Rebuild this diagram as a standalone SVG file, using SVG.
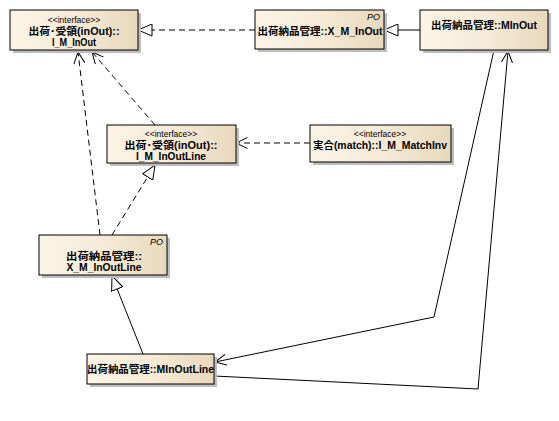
<svg xmlns="http://www.w3.org/2000/svg" width="559" height="421" viewBox="0 0 559 421">
<defs>
<linearGradient id="g" x1="0" y1="0" x2="1" y2="0">
<stop offset="0" stop-color="#FCF4E6"/>
<stop offset="0.5" stop-color="#F6EBD8"/>
<stop offset="1" stop-color="#E8D8BC"/>
</linearGradient>
<marker id="tri" viewBox="0 0 15 13" refX="14.5" refY="6.5" markerWidth="15" markerHeight="13" markerUnits="userSpaceOnUse" orient="auto">
<path d="M0.5,0.5 L14.5,6.5 L0.5,12.5 z" fill="#fff" stroke="#000" stroke-width="1"/>
</marker>
<marker id="vee" viewBox="0 0 12 12" refX="11.5" refY="6" markerWidth="12" markerHeight="12" markerUnits="userSpaceOnUse" orient="auto">
<path d="M0,0.5 L11.5,6 L0,11.5" fill="none" stroke="#000" stroke-width="1"/>
</marker>
</defs>
<style>
.sh{fill:#BDBDBD}
.bx{fill:url(#g);stroke:#000;stroke-width:1}
.t{font-family:"Liberation Sans","Noto Sans CJK JP",sans-serif;font-size:10px;font-weight:bold;fill:#000;text-anchor:middle}
.st{font-family:"Liberation Sans","Noto Sans CJK JP",sans-serif;font-size:8.5px;fill:#000;text-anchor:middle}
.po{font-family:"Liberation Sans",sans-serif;font-size:9px;font-style:italic;fill:#000;text-anchor:end}
.c{fill:none;stroke:#000;stroke-width:1}
.d{stroke-dasharray:6,4}
</style>
<rect width="559" height="421" fill="#fff"/>
<g id="connectors">
<path class="c d" d="M255,30 L138,30" marker-end="url(#tri)"/>
<path class="c" d="M420,30 L384,30" marker-end="url(#tri)"/>
<path class="c d" d="M155,125 L92,52" marker-end="url(#vee)"/>
<path class="c d" d="M100,235 L78,52" marker-end="url(#vee)"/>
<path class="c d" d="M112,235 L155,165" marker-end="url(#tri)"/>
<path class="c d" d="M310,143 L236,143" marker-end="url(#vee)"/>
<path class="c" d="M143,354 L112,276" marker-end="url(#tri)"/>
<path class="c" d="M494,50 L434,317 L215,362" marker-end="url(#vee)"/>
<path class="c" d="M214,376 L478,389 L508,51" marker-end="url(#vee)"/>
</g>
<g id="I_M_InOut">
<rect class="sh" x="13" y="13" width="128" height="40"/>
<rect class="bx" x="10" y="10" width="128" height="40"/>
<text class="st" x="74" y="23">&lt;&lt;interface&gt;&gt;</text>
<text class="t" x="74" y="35" textLength="91" lengthAdjust="spacingAndGlyphs">出荷･受領(inOut)::</text>
<text class="t" x="74" y="46" textLength="44" lengthAdjust="spacingAndGlyphs">I_M_InOut</text>
</g>
<g id="X_M_InOut">
<rect class="sh" x="258" y="13" width="129" height="39"/>
<rect class="bx" x="255" y="10" width="129" height="39"/>
<text class="po" x="380" y="20">PO</text>
<text class="t" x="320" y="35" textLength="125" lengthAdjust="spacingAndGlyphs">出荷納品管理::X_M_InOut</text>
</g>
<g id="MInOut">
<rect class="sh" x="423" y="13" width="128" height="40"/>
<rect class="bx" x="420" y="10" width="128" height="40"/>
<text class="t" x="484" y="29" textLength="106" lengthAdjust="spacingAndGlyphs">出荷納品管理::MInOut</text>
</g>
<g id="I_M_InOutLine">
<rect class="sh" x="110" y="128" width="129" height="38"/>
<rect class="bx" x="107" y="125" width="129" height="38"/>
<text class="st" x="171" y="137">&lt;&lt;interface&gt;&gt;</text>
<text class="t" x="171" y="149" textLength="93" lengthAdjust="spacingAndGlyphs">出荷･受領(inOut)::</text>
<text class="t" x="171" y="160" textLength="70" lengthAdjust="spacingAndGlyphs">I_M_InOutLine</text>
</g>
<g id="I_M_MatchInv">
<rect class="sh" x="313" y="128" width="141" height="37"/>
<rect class="bx" x="310" y="125" width="141" height="37"/>
<text class="st" x="380" y="137">&lt;&lt;interface&gt;&gt;</text>
<text class="t" x="380" y="149" textLength="134" lengthAdjust="spacingAndGlyphs">実合(match)::I_M_MatchInv</text>
</g>
<g id="X_M_InOutLine">
<rect class="sh" x="42" y="238" width="128" height="40"/>
<rect class="bx" x="39" y="235" width="128" height="40"/>
<text class="po" x="163" y="245">PO</text>
<text class="t" x="104" y="260" textLength="76" lengthAdjust="spacingAndGlyphs">出荷納品管理::</text>
<text class="t" x="104" y="271" textLength="75" lengthAdjust="spacingAndGlyphs">X_M_InOutLine</text>
</g>
<g id="MInOutLine">
<rect class="sh" x="90" y="357" width="127" height="30"/>
<rect class="bx" x="87" y="354" width="127" height="30"/>
<text class="t" x="150.5" y="373" textLength="127" lengthAdjust="spacingAndGlyphs">出荷納品管理::MInOutLine</text>
</g>
</svg>
